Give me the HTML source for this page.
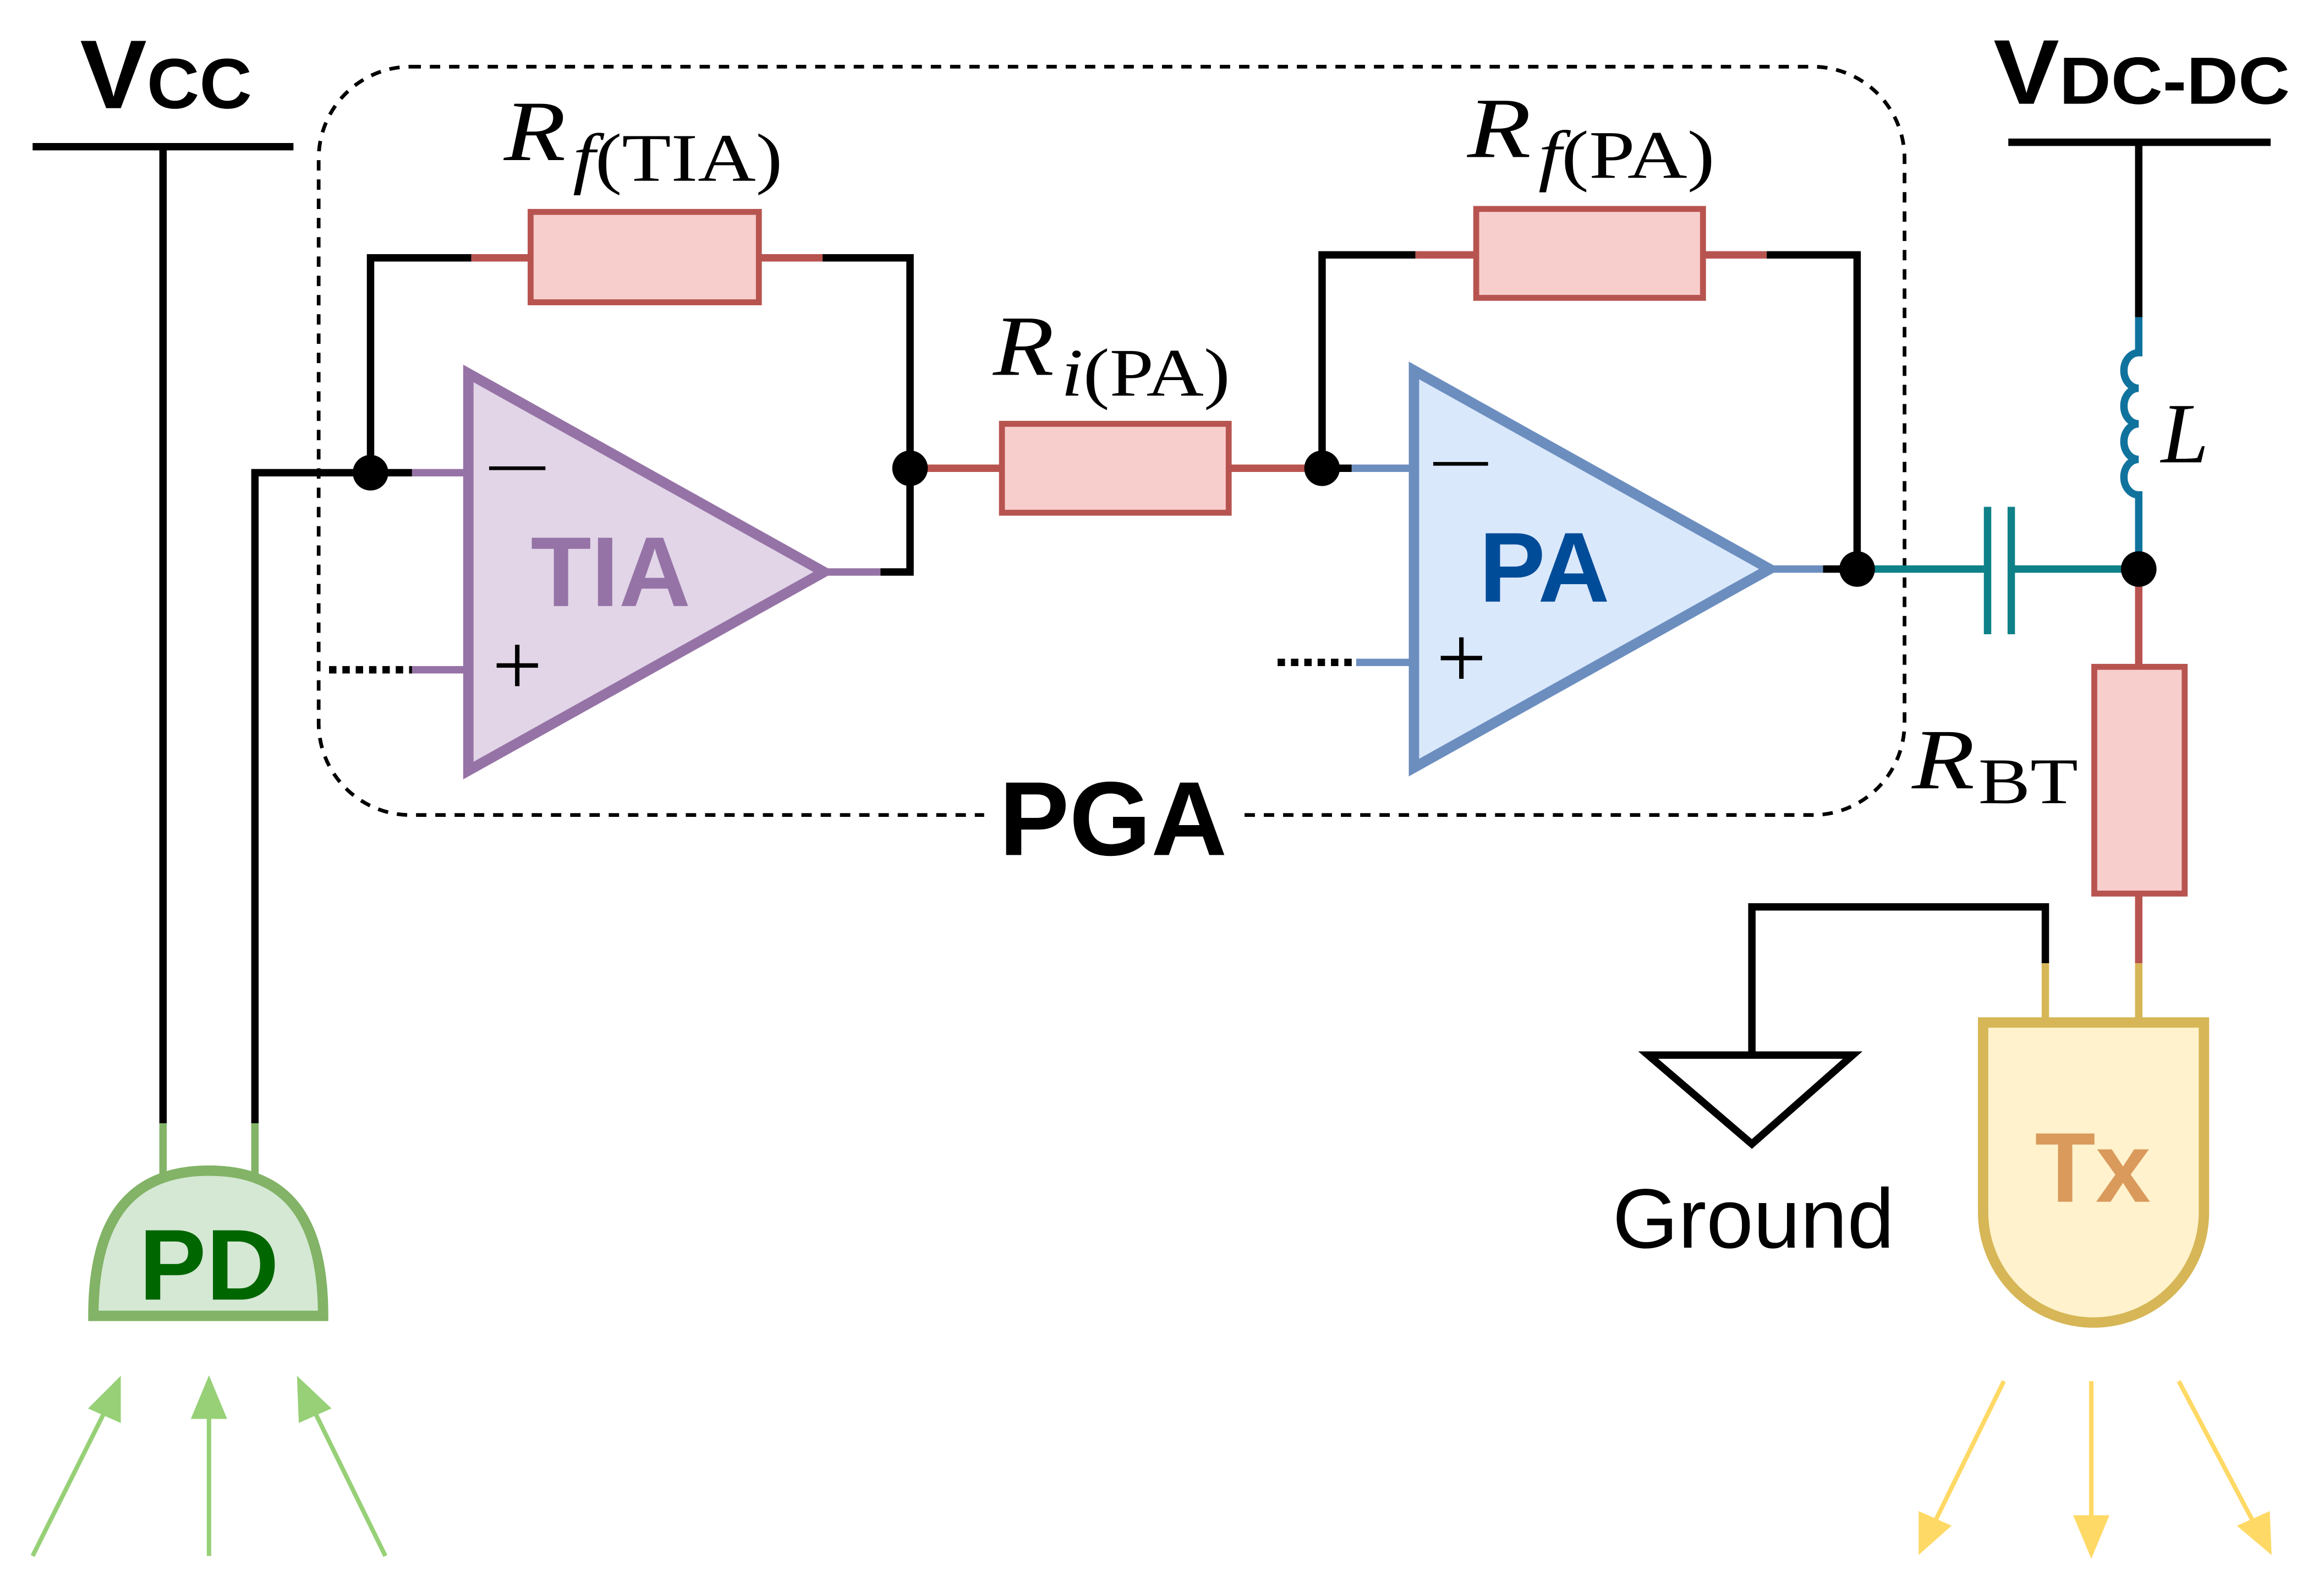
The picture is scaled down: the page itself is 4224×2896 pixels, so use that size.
<!DOCTYPE html>
<html><head><meta charset="utf-8"><style>
html,body{margin:0;padding:0;background:#fff;}
svg{display:block;width:4224px;height:2896px;}
.s{font-family:"Liberation Sans",sans-serif;font-weight:bold;}
.m{font-family:"Liberation Serif",serif;}
</style></head><body>
<svg viewBox="0 0 1568 1075" preserveAspectRatio="none" xmlns="http://www.w3.org/2000/svg">
<!-- PGA dashed box -->
<rect x="215" y="45" width="1070" height="505" rx="62" fill="none" stroke="#000" stroke-width="2.5" stroke-dasharray="7,6"/>
<rect x="664" y="518" width="172" height="64" fill="#fff"/>
<text x="751" y="577" class="s" font-size="71" text-anchor="middle">PGA</text>

<!-- VCC -->
<text x="54" y="73" class="s" font-size="66" textLength="116" lengthAdjust="spacingAndGlyphs">V<tspan font-size="48">CC</tspan></text>
<line x1="22" y1="99" x2="198" y2="99" stroke="#000" stroke-width="5"/>
<g stroke-width="5" fill="none">
<path d="M110,99 V758" stroke="#000"/>
<path d="M110,758 V792" stroke="#82b366"/>
<path d="M172,758 V319 H278" stroke="#000"/>
<path d="M172,758 V795" stroke="#82b366"/>
<path d="M278,319 H316" stroke="#9673a6"/>
<path d="M222,452 H278" stroke="#000" stroke-dasharray="5,4"/>
<path d="M278,452 H316" stroke="#9673a6"/>
<path d="M250,319 V174 H318" stroke="#000"/>
<path d="M318,174 H358 M512,174 H555" stroke="#b85450"/>
<path d="M555,174 H614 V386 H594" stroke="#000"/>
<path d="M556,386 H594" stroke="#9673a6"/>
<path d="M614,316 H676 M829,316 H892" stroke="#b85450"/>
<path d="M892,316 H912" stroke="#000"/>
<path d="M912,316 H954" stroke="#6c8ebf"/>
<path d="M862,447 H915" stroke="#000" stroke-dasharray="5,4"/>
<path d="M915,447 H954" stroke="#6c8ebf"/>
<path d="M892,316 V172 H955" stroke="#000"/>
<path d="M955,172 H996 M1149,172 H1192" stroke="#b85450"/>
<path d="M1192,172 H1253 V384 H1230" stroke="#000"/>
<path d="M1194,384 H1230" stroke="#6c8ebf"/>
<path d="M1253,384 H1341 M1357,384 H1443" stroke="#0e8088"/>
<path d="M1341,342 V428 M1357,342 V428" stroke="#0e8088"/>
<path d="M1443,96 V214" stroke="#000"/>
<path d="M1443,214 V238 a10,12 0 0 0 0,24 a10,12 0 0 0 0,24 a10,12 0 0 0 0,24 a10,12 0 0 0 0,24 V384" stroke="#10739e"/>
<path d="M1443,384 V450 M1443,603 V650" stroke="#b85450"/>
<path d="M1443,650 V690" stroke="#d6b656"/>
<path d="M1380,650 V612 H1182 V712" stroke="#000"/>
<path d="M1380,650 V690" stroke="#d6b656"/>
</g>
<line x1="1355" y1="96" x2="1532" y2="96" stroke="#000" stroke-width="5"/>
<text x="1345" y="70" class="s" font-size="62" textLength="200" lengthAdjust="spacingAndGlyphs">V<tspan font-size="45">DC-DC</tspan></text>

<!-- resistors -->
<g fill="#f8cecc" stroke="#b85450" stroke-width="4">
<rect x="358" y="143" width="154" height="61"/>
<rect x="676" y="286" width="153" height="60"/>
<rect x="996" y="141" width="153" height="60"/>
<rect x="1413" y="450" width="61" height="153"/>
</g>

<!-- TIA -->
<polygon points="316,252 316,520 556,386" fill="#e1d5e7" stroke="#9673a6" stroke-width="7"/>
<text x="412" y="409" class="s" font-size="67" fill="#9673a6" text-anchor="middle">TIA</text>
<line x1="330" y1="316" x2="368" y2="316" stroke="#000" stroke-width="2.5"/>
<text x="349" y="469" class="m" font-size="60" text-anchor="middle">+</text>
<!-- PA -->
<polygon points="954,250 954,518 1194,384" fill="#dae8fc" stroke="#6c8ebf" stroke-width="7"/>
<text x="1042" y="406" class="s" font-size="67" fill="#004c99" text-anchor="middle">PA</text>
<line x1="967" y1="313" x2="1004" y2="313" stroke="#000" stroke-width="2.5"/>
<text x="986" y="464" class="m" font-size="60" text-anchor="middle">+</text>

<!-- dots -->
<g fill="#000">
<circle cx="250" cy="319" r="12"/><circle cx="614" cy="316" r="12"/>
<circle cx="892" cy="316" r="12"/><circle cx="1253" cy="384" r="12"/>
<circle cx="1443" cy="384" r="12"/>
</g>

<!-- labels -->
<text x="340" y="108" class="m" font-size="58" textLength="188" lengthAdjust="spacingAndGlyphs"><tspan font-style="italic">R</tspan><tspan font-size="46" dy="14" dx="4"><tspan font-style="italic">f</tspan>(TIA)</tspan></text>
<text x="670" y="253" class="m" font-size="58" textLength="160" lengthAdjust="spacingAndGlyphs"><tspan font-style="italic">R</tspan><tspan font-size="46" dy="14" dx="4"><tspan font-style="italic">i</tspan>(PA)</tspan></text>
<text x="990" y="106" class="m" font-size="58" textLength="167" lengthAdjust="spacingAndGlyphs"><tspan font-style="italic">R</tspan><tspan font-size="46" dy="14" dx="4"><tspan font-style="italic">f</tspan>(PA)</tspan></text>
<text x="1290" y="532" class="m" font-size="58" textLength="112" lengthAdjust="spacingAndGlyphs"><tspan font-style="italic">R</tspan><tspan font-size="44" dy="10" dx="2">BT</tspan></text>
<text x="1458" y="312" class="m" font-size="58" font-style="italic">L</text>

<!-- Ground -->
<polygon points="1112,712 1250,712 1182,772" fill="#fff" stroke="#000" stroke-width="5"/>
<text x="1183" y="842" font-family="Liberation Sans,sans-serif" font-size="57" text-anchor="middle">Ground</text>

<!-- Tx -->
<path d="M1338,690 H1487 V818 A74.5,74.5 0 0 1 1338,818 Z" fill="#fff2cc" stroke="#d6b656" stroke-width="7"/>
<text x="1412" y="811" class="s" font-size="67" fill="#d99a5c" text-anchor="middle">Tx</text>

<!-- PD -->
<path d="M63,888 C63,820 90,790 141,790 C192,790 218,820 218,888 Z" fill="#d5e8d4" stroke="#82b366" stroke-width="7"/>
<text x="141" y="877" class="s" font-size="68" fill="#006600" text-anchor="middle">PD</text>

<!-- green arrows -->
<g stroke="#97d077" stroke-width="3" fill="#97d077">
<line x1="22" y1="1050" x2="74" y2="946"/><polygon points="80,932 80,958 62,950"/>
<line x1="141" y1="1050" x2="141" y2="948"/><polygon points="141,932 131,956 151,956"/>
<line x1="260" y1="1050" x2="209" y2="946"/><polygon points="202,932 221,950 203,958"/>
</g>
<!-- yellow arrows -->
<g stroke="#ffd966" stroke-width="3" fill="#ffd966">
<line x1="1352" y1="932" x2="1302" y2="1034"/><polygon points="1296,1046 1296,1022 1314,1030"/>
<line x1="1411" y1="932" x2="1411" y2="1032"/><polygon points="1411,1048 1401,1024 1421,1024"/>
<line x1="1470" y1="932" x2="1524" y2="1034"/><polygon points="1531,1046 1512,1030 1530,1022"/>
</g>
</svg>
</body></html>
